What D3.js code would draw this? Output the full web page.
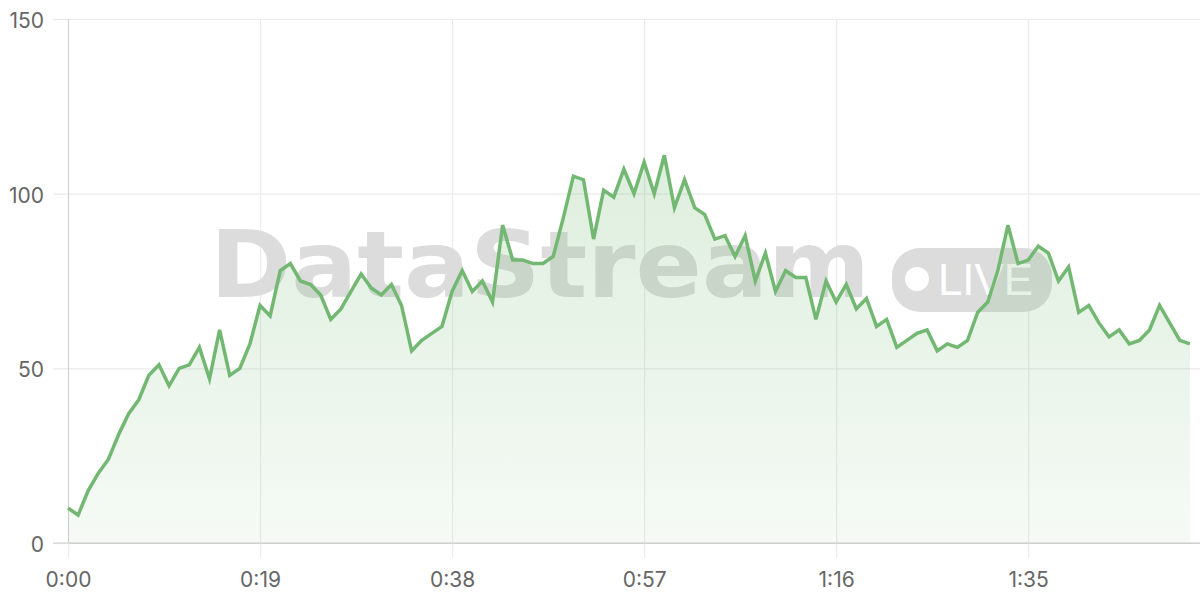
<!DOCTYPE html>
<html>
<head>
<meta charset="utf-8">
<script src="https://cdn.jsdelivr.net/npm/d3@7/dist/d3.min.js"></script>
<style>
  html, body { margin: 0; padding: 0; background: #ffffff; }
  svg { display: block; }
  .tick text { font-family: Inter, "Liberation Sans", Arial, sans-serif; }
</style>
</head>
<body>
<svg id="chart" width="1200" height="600"></svg>
<script>
// ---- data ----
const seconds = d3.range(0, 112); // one sample per second, 0:00 .. 1:51
const values = [
  10, 8, 15, 20, 24, 31, 37, 41, 48, 51,
  45, 50, 51, 56, 47, 61, 48, 50, 57, 68,
  65, 78, 80, 75, 74, 71, 64, 67, 72, 77,
  73, 71, 74, 68, 55, 58, 60, 62, 72, 78,
  72, 75, 69, 91, 81, 81, 80, 80, 82, 93,
  105, 104, 87, 101, 99, 107, 100, 109, 100, 111,
  96, 104, 96, 94, 87, 88, 82, 88, 75, 83,
  72, 78, 76, 76, 64, 75, 69, 74, 67, 70,
  62, 64, 56, 58, 60, 61, 55, 57, 56, 58,
  66, 69, 78, 91, 80, 81, 85, 83, 75, 79,
  66, 68, 63, 59, 61, 57, 58, 61, 68, 63,
  58, 57
];
const xTickValues = [0, 19, 38, 57, 76, 95];
const yTickValues = [0, 50, 100, 150];
const watermarkText = "DataStream";
const badgeText = "LIVE";

(function () {
// ---- layout ----
const svg = d3.select("#chart");
const mLeft = 68, mRight = 1200, mTop = 19, mBottom = 543;

const x = d3.scaleLinear().domain([0, 112]).range([mLeft, mRight]);
const y = d3.scaleLinear().domain([0, 150]).range([mBottom, mTop]);

const fmt = s => Math.floor(s / 60) + ":" + String(s % 60).padStart(2, "0");

// gradient
const defs = svg.append("defs");
const grad = defs.append("linearGradient")
  .attr("id", "areaGrad").attr("gradientUnits", "userSpaceOnUse")
  .attr("x1", 0).attr("x2", 0).attr("y1", y(111)).attr("y2", y(0));
grad.append("stop").attr("offset", 0).attr("stop-color", "#74b974").attr("stop-opacity", 0.24);
grad.append("stop").attr("offset", 1).attr("stop-color", "#74b974").attr("stop-opacity", 0.07);

// y grid + axis
const yAxis = svg.append("g")
  .attr("transform", `translate(${mLeft},0)`)
  .call(d3.axisLeft(y).tickValues(yTickValues).tickSize(15).tickPadding(9).tickFormat(d3.format("d")));
yAxis.select(".domain").remove();
yAxis.selectAll(".tick line").attr("stroke", "#e9e9e9").attr("stroke-width", 1.2);
yAxis.selectAll(".tick").append("line")
  .attr("x1", 0).attr("x2", mRight - mLeft)
  .attr("stroke", d => d === 0 ? "#cfcfcf" : "#ebebeb").attr("stroke-width", 1.2);
yAxis.selectAll(".tick text")
  .attr("fill", "#666").attr("font-size", 21).attr("dy", "0.4em");

// x grid + axis
const xAxis = svg.append("g")
  .attr("transform", `translate(0,${mBottom})`)
  .call(d3.axisBottom(x).tickValues(xTickValues).tickSize(15).tickPadding(14).tickFormat(fmt));
xAxis.select(".domain").remove();
xAxis.selectAll(".tick line").attr("stroke", "#ebebeb").attr("stroke-width", 1.2);
xAxis.selectAll(".tick").append("line")
  .attr("y1", 0).attr("y2", mTop - mBottom)
  .attr("stroke", d => d === 0 ? "#d2d2d2" : "#ebebeb").attr("stroke-width", 1.2);
xAxis.selectAll(".tick text")
  .attr("fill", "#666").attr("font-size", 21);

// baseline darker on top of vertical gridlines
svg.append("line")
  .attr("x1", mLeft - 15).attr("x2", mRight)
  .attr("y1", y(0)).attr("y2", y(0))
  .attr("stroke", "#cfcfcf").attr("stroke-width", 1.2);

// watermark
const wm = svg.append("g").attr("class", "watermark");
wm.append("text")
  .attr("x", 210).attr("y", 297)
  .attr("font-family", "'DejaVu Sans', sans-serif")
  .attr("font-weight", "bold").attr("font-size", 92)
  .attr("textLength", 660).attr("lengthAdjust", "spacingAndGlyphs")
  .attr("fill", "#dcdcdc")
  .text(watermarkText);
wm.append("rect")
  .attr("x", 892).attr("y", 248).attr("width", 160).attr("height", 64)
  .attr("rx", 28).attr("fill", "#dcdcdc");
wm.append("circle")
  .attr("cx", 917).attr("cy", 279).attr("r", 12).attr("fill", "#ffffff");
wm.append("text")
  .attr("x", 938).attr("y", 295)
  .attr("font-family", "'Liberation Sans', Arial, sans-serif")
  .attr("font-size", 44).attr("textLength", 95).attr("lengthAdjust", "spacingAndGlyphs")
  .attr("fill", "#ffffff")
  .text(badgeText);

// area + line
const data = seconds.map((s, i) => ({ s, v: values[i] }));
svg.append("path")
  .datum(data)
  .attr("fill", "url(#areaGrad)")
  .attr("d", d3.area().x(d => x(d.s)).y0(y(0)).y1(d => y(d.v)));
svg.append("path")
  .datum(data)
  .attr("fill", "none")
  .attr("stroke", "#72b872")
  .attr("stroke-width", 3.5)
  .attr("stroke-linejoin", "miter")
  .attr("d", d3.line().x(d => x(d.s)).y(d => y(d.v)));
})();
</script>
</body>
</html>
